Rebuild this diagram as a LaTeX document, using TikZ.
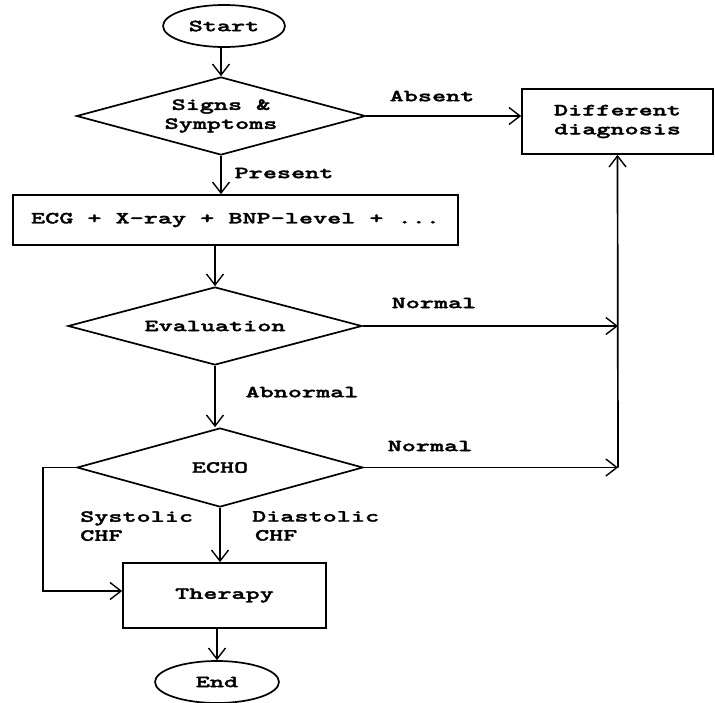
\documentclass[tikz,border=0pt]{standalone}
\usepackage{fontspec}
\newfontfamily\cf{lmmonolt10-bold.otf}[FakeStretch=1.58, FakeBold=1.8]
\usetikzlibrary{shapes.geometric,arrows.meta}
\begin{document}
\begin{tikzpicture}[x=1pt,y=-1pt,
  every node/.style={font=\cf\fontsize{17}{19}\selectfont, inner sep=0pt},
  arr/.style={line width=1.7pt,-{Straight Barb[length=11pt,width=17pt,line width=1.4pt]}},
  boxnode/.style={draw, line width=1.7pt, rectangle, align=center},
  dia/.style={draw, line width=1.7pt, diamond, align=center, aspect=3.7},
  term/.style={draw, line width=1.7pt, ellipse},
  lbl/.style={align=left}]
\useasboundingbox (0,0) rectangle (715,702);
\node[term, minimum width=122pt, minimum height=42pt] (start) at (224,26) {Start};
\node[dia, minimum width=289pt, minimum height=78pt] (signs) at (221,116) {Signs \&\\Symptoms};
\node[boxnode, minimum width=445pt, minimum height=50pt] (ecg) at (235.5,220) {ECG + X-ray + BNP-level + ...};
\node[dia, minimum width=294pt, minimum height=78pt] (eval) at (215,326) {Evaluation};
\node[dia, minimum width=286pt, minimum height=79pt] (echo) at (220,467.5) {ECHO};
\node[boxnode, minimum width=203pt, minimum height=65pt] (ther) at (224.5,595.5) {Therapy};
\node[term, minimum width=124pt, minimum height=42pt] (end) at (217,682) {End};
\node[boxnode, minimum width=191pt, minimum height=65pt] (dd) at (617.5,121.5) {Different\\diagnosis};

\coordinate (j1) at (618,326);
\coordinate (j2) at (618,467.5);
\coordinate (sl) at (43,467.5);
\coordinate (sb) at (43,591);

\draw[arr] (start.south -| signs.north) -- (signs.north);
\draw[arr] (signs.south) -- (signs.south |- ecg.north);
\draw[arr] (signs.east) -- (dd.west |- signs.east);
\draw[arr] (eval.north |- ecg.south) -- (eval.north);
\draw[arr] (eval.east) -- (j1);
\draw[arr] (eval.south) -- (eval.south |- echo.north);
\draw[arr] (echo.east) -- (j2);
\draw[arr] (j2) -- (dd.south);
\draw[arr] (echo.south) -- (echo.south |- ther.north);
\draw[arr] (echo.west) -- (sl) -- (sb) -- (ther.west |- sb);
\draw[arr] (ther.south -| end.north) -- (end.north);

\node (labs) at (432,96) {Absent};
\node (lpres) at (284,173) {Present};
\node (lnorm1) at (434,303) {Normal};
\node (labn) at (302,392) {Abnormal};
\node (lnorm2) at (430,446) {Normal};
\node[lbl, anchor=north west] (lsys) at (80,511) {Systolic\\CHF};
\node[lbl, anchor=north west] (ldia) at (252,511) {Diastolic\\\,CHF};
\end{tikzpicture}
\end{document}
